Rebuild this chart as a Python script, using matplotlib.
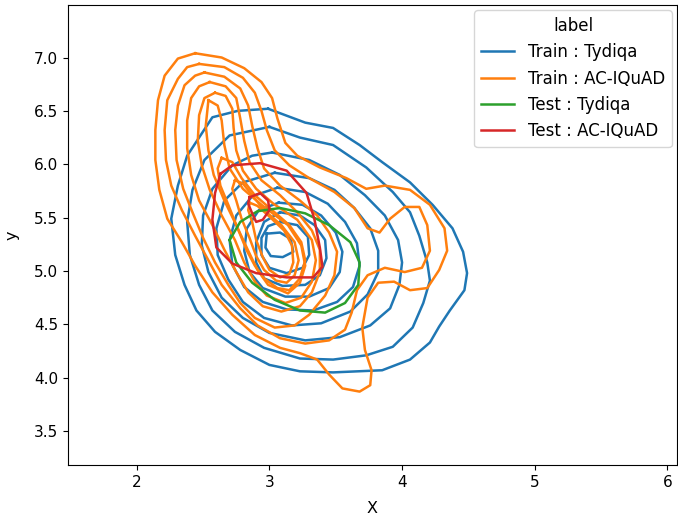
import matplotlib.pyplot as plt
import numpy as np

# contour lines (x, y)
train_tydiqa = [
    [(2.99, 6.52), (3.27, 6.39), (3.48, 6.34), (3.68, 6.18), (3.85, 6.02), (4.06, 5.83),
     (4.23, 5.62), (4.38, 5.40), (4.46, 5.18), (4.49, 4.98), (4.47, 4.82), (4.36, 4.63),
     (4.28, 4.48), (4.21, 4.33), (4.06, 4.17), (3.85, 4.07), (3.48, 4.05), (3.23, 4.06),
     (3.00, 4.12), (2.78, 4.26), (2.59, 4.43), (2.45, 4.63), (2.36, 4.87), (2.29, 5.15),
     (2.26, 5.49), (2.31, 5.80), (2.38, 6.08), (2.57, 6.44), (2.76, 6.50)],
    [(3.00, 6.35), (3.23, 6.25), (3.48, 6.18), (3.73, 5.97), (3.93, 5.74), (4.06, 5.55),
     (4.13, 5.33), (4.19, 5.08), (4.21, 4.91), (4.16, 4.70), (4.08, 4.47), (3.93, 4.29),
     (3.73, 4.21), (3.48, 4.17), (3.23, 4.18), (2.96, 4.28), (2.74, 4.43), (2.57, 4.63),
     (2.47, 4.87), (2.40, 5.15), (2.38, 5.46), (2.42, 5.76), (2.51, 6.04), (2.70, 6.27)],
    [(3.02, 6.11), (3.30, 6.04), (3.53, 5.90), (3.72, 5.71), (3.87, 5.52), (3.97, 5.29),
     (4.00, 5.08), (3.98, 4.87), (3.91, 4.65), (3.76, 4.49), (3.53, 4.38), (3.27, 4.35),
     (3.00, 4.42), (2.80, 4.56), (2.64, 4.75), (2.54, 4.99), (2.49, 5.24), (2.50, 5.52),
     (2.57, 5.77), (2.72, 5.99), (2.87, 6.08)],
    [(3.04, 5.92), (3.30, 5.87), (3.49, 5.76), (3.64, 5.59), (3.76, 5.40), (3.82, 5.19),
     (3.82, 4.99), (3.74, 4.78), (3.61, 4.62), (3.39, 4.51), (3.17, 4.49), (2.96, 4.56),
     (2.80, 4.71), (2.69, 4.92), (2.61, 5.15), (2.60, 5.40), (2.66, 5.66), (2.80, 5.83)],
    [(3.06, 5.78), (3.27, 5.74), (3.44, 5.63), (3.57, 5.46), (3.66, 5.26), (3.68, 5.05),
     (3.63, 4.85), (3.51, 4.71), (3.33, 4.63), (3.13, 4.64), (2.95, 4.71), (2.81, 4.85),
     (2.72, 5.06), (2.70, 5.29), (2.75, 5.52), (2.87, 5.70)],
    [(3.07, 5.64), (3.25, 5.62), (3.39, 5.52), (3.50, 5.36), (3.55, 5.18), (3.53, 4.99),
     (3.45, 4.84), (3.30, 4.76), (3.12, 4.76), (2.95, 4.84), (2.85, 4.99), (2.81, 5.19),
     (2.83, 5.40), (2.92, 5.57)],
    [(3.08, 5.55), (3.23, 5.52), (3.34, 5.43), (3.42, 5.29), (3.43, 5.12), (3.38, 4.96),
     (3.27, 4.87), (3.10, 4.86), (2.96, 4.93), (2.90, 5.08), (2.90, 5.27), (2.96, 5.46)],
    [(3.08, 5.46), (3.21, 5.43), (3.29, 5.32), (3.30, 5.15), (3.25, 5.03), (3.13, 4.98),
     (3.00, 5.03), (2.94, 5.15), (2.94, 5.31), (2.99, 5.42)],
    [(2.98, 5.35), (3.08, 5.36), (3.16, 5.30), (3.18, 5.18), (3.10, 5.13), (3.01, 5.14),
     (2.97, 5.22)],
]

train_aciquad = [
    [(2.44, 7.04), (2.64, 7.00), (2.81, 6.90), (2.94, 6.77), (3.02, 6.62), (3.06, 6.43),
     (3.12, 6.20), (3.21, 6.08), (3.38, 5.97), (3.58, 5.87), (3.73, 5.77), (3.87, 5.80),
     (4.06, 5.76), (4.21, 5.62), (4.32, 5.40), (4.34, 5.19), (4.28, 5.01), (4.19, 4.84),
     (4.06, 4.82), (3.94, 4.90), (3.82, 4.89), (3.74, 4.75), (3.70, 4.47), (3.72, 4.26),
     (3.77, 4.07), (3.76, 3.93), (3.68, 3.87), (3.55, 3.90), (3.45, 4.03), (3.36, 4.17),
     (3.23, 4.23), (3.08, 4.28), (2.89, 4.40), (2.72, 4.59), (2.57, 4.80), (2.44, 5.05),
     (2.34, 5.27), (2.23, 5.49), (2.17, 5.76), (2.14, 6.04), (2.14, 6.32), (2.16, 6.60),
     (2.21, 6.83), (2.31, 6.99)],
    [(2.47, 6.94), (2.66, 6.91), (2.80, 6.81), (2.89, 6.67), (2.94, 6.50), (2.98, 6.32),
     (3.04, 6.13), (3.15, 5.99), (3.30, 5.87), (3.49, 5.74), (3.64, 5.59), (3.74, 5.40),
     (3.83, 5.36), (3.91, 5.49), (4.02, 5.60), (4.13, 5.60), (4.19, 5.43), (4.21, 5.19),
     (4.15, 5.03), (4.02, 4.99), (3.87, 5.03), (3.74, 4.96), (3.66, 4.82), (3.62, 4.61),
     (3.57, 4.45), (3.45, 4.35), (3.27, 4.32), (3.08, 4.37), (2.91, 4.49), (2.78, 4.65),
     (2.64, 4.87), (2.54, 5.10), (2.44, 5.33), (2.34, 5.57), (2.26, 5.80), (2.22, 6.04),
     (2.21, 6.32), (2.23, 6.60), (2.31, 6.80), (2.38, 6.91)],
    [(2.51, 6.86), (2.66, 6.82), (2.78, 6.71), (2.84, 6.55), (2.87, 6.36), (2.91, 6.15),
     (2.96, 5.96), (3.08, 5.80), (3.23, 5.66), (3.36, 5.52), (3.45, 5.36), (3.51, 5.18),
     (3.49, 4.96), (3.42, 4.77), (3.30, 4.59), (3.19, 4.49), (3.04, 4.47), (2.89, 4.56),
     (2.78, 4.70), (2.69, 4.87), (2.59, 5.08), (2.50, 5.31), (2.42, 5.55), (2.35, 5.77),
     (2.30, 6.04), (2.29, 6.32), (2.31, 6.55), (2.36, 6.74), (2.44, 6.83)],
    [(2.55, 6.77), (2.67, 6.73), (2.75, 6.62), (2.78, 6.43), (2.81, 6.22), (2.85, 6.02),
     (2.94, 5.85), (3.08, 5.71), (3.21, 5.55), (3.32, 5.38), (3.38, 5.20), (3.38, 4.99),
     (3.32, 4.80), (3.23, 4.67), (3.09, 4.62), (2.95, 4.67), (2.84, 4.80), (2.75, 4.99),
     (2.66, 5.20), (2.57, 5.43), (2.47, 5.66), (2.41, 5.90), (2.38, 6.15), (2.38, 6.41),
     (2.41, 6.62), (2.47, 6.73)],
    [(2.59, 6.67), (2.67, 6.64), (2.72, 6.52), (2.73, 6.34), (2.75, 6.13), (2.80, 5.94),
     (2.90, 5.77), (3.03, 5.63), (3.21, 5.48), (3.32, 5.29), (3.35, 5.10), (3.32, 4.90),
     (3.24, 4.75), (3.12, 4.70), (2.98, 4.77), (2.89, 4.90), (2.81, 5.08), (2.74, 5.29),
     (2.64, 5.52), (2.55, 5.76), (2.49, 5.99), (2.46, 6.22), (2.47, 6.46), (2.51, 6.62)],
    [(2.54, 6.60), (2.61, 6.55), (2.64, 6.41), (2.66, 6.18), (2.70, 5.96), (2.80, 5.77),
     (2.94, 5.62), (3.14, 5.43), (3.24, 5.24), (3.27, 5.05), (3.23, 4.89), (3.14, 4.79),
     (2.99, 4.87), (2.91, 5.01), (2.84, 5.19), (2.75, 5.43), (2.66, 5.66), (2.58, 5.90),
     (2.54, 6.13), (2.52, 6.36)],
    [(2.64, 6.06), (2.72, 6.02), (2.79, 5.87), (2.89, 5.71), (3.02, 5.57), (3.15, 5.43),
     (3.24, 5.27), (3.27, 5.10), (3.23, 4.93), (3.15, 4.82), (3.06, 4.84), (2.96, 4.93),
     (2.89, 5.05), (2.83, 5.19), (2.76, 5.40), (2.69, 5.62), (2.63, 5.80), (2.61, 5.96)],
    [(2.74, 5.85), (2.80, 5.82), (2.87, 5.71), (2.96, 5.57), (3.09, 5.43), (3.19, 5.27),
     (3.22, 5.10), (3.19, 4.96), (3.13, 4.89), (3.05, 4.91), (2.96, 5.01), (2.90, 5.14),
     (2.85, 5.31), (2.79, 5.49), (2.75, 5.66), (2.72, 5.77)],
    [(2.85, 5.64), (2.91, 5.61), (3.00, 5.51), (3.11, 5.38), (3.17, 5.24), (3.18, 5.08),
     (3.15, 4.97), (3.08, 4.94), (3.00, 5.01), (2.95, 5.13), (2.90, 5.29), (2.87, 5.46),
     (2.84, 5.57)],
]

test_tydiqa = [
    [(2.70, 5.29), (2.78, 5.46), (2.91, 5.56), (3.08, 5.59), (3.27, 5.54), (3.45, 5.43),
     (3.61, 5.27), (3.68, 5.08), (3.67, 4.87), (3.57, 4.70), (3.42, 4.61), (3.23, 4.63),
     (3.04, 4.73), (2.87, 4.89), (2.75, 5.08)],
]

test_aciquad = [
    [(2.63, 5.91), (2.72, 5.99), (2.93, 6.01), (3.13, 5.94), (3.28, 5.73), (3.34, 5.48),
     (3.38, 5.22), (3.40, 5.04), (3.33, 4.94), (3.13, 4.94), (2.90, 4.98), (2.72, 5.07),
     (2.60, 5.22), (2.57, 5.48), (2.59, 5.73)],
    [(2.85, 5.69), (2.93, 5.73), (2.99, 5.66), (3.00, 5.57), (2.95, 5.48), (2.90, 5.46),
     (2.87, 5.54), (2.84, 5.63)],
]

labels = ["Train : Tydiqa", "Train : AC-IQuAD", "Test : Tydiqa", "Test : AC-IQuAD"]
groups = [train_tydiqa, train_aciquad, test_tydiqa, test_aciquad]
colors = ["#1f77b4", "#ff7f0e", "#2ca02c", "#d62728"]

fig = plt.figure(figsize=(6.78, 5.21), dpi=100)
ax = fig.add_axes([0.100, 0.107, 0.898, 0.883])

for label, lines, color in zip(labels, groups, colors):
    for i, line in enumerate(lines):
        pts = np.array(line + [line[0]])
        ax.plot(pts[:, 0], pts[:, 1], color=color, lw=1.8,
                solid_joinstyle="round", label=label if i == 0 else None)

ax.set_xlim(1.48, 6.07)
ax.set_ylim(3.18, 7.49)
ax.tick_params(labelsize=11)
ax.set_xlabel("X", fontsize=11.5, labelpad=8)
ax.set_ylabel("y", fontsize=11.5, labelpad=10)
ax.legend(title="label", loc="upper right", fontsize=12, title_fontsize=12,
          handlelength=2.0, borderaxespad=0.3)

fig.savefig("out.png", dpi=100)
